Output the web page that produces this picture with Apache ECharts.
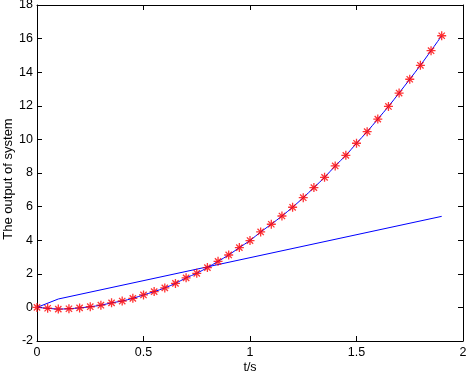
<!DOCTYPE html>
<html>
<head>
<meta charset="utf-8">
<script src="https://cdn.jsdelivr.net/npm/echarts@6/dist/echarts.min.js"></script>
<style>
  html, body { margin: 0; padding: 0; background: #fff; }
  #chart { width: 468px; height: 374px; }
</style>
</head>
<body>
<div id="chart"></div>
<script>
// system output sampled every 0.05 s
const t = [0, 0.05, 0.1, 0.15, 0.2, 0.25, 0.3, 0.35, 0.4, 0.45, 0.5, 0.55, 0.6, 0.65,
  0.7, 0.75, 0.8, 0.85, 0.9, 0.95, 1.0, 1.05, 1.1, 1.15, 1.2, 1.25, 1.3, 1.35, 1.4,
  1.45, 1.5, 1.55, 1.6, 1.65, 1.7, 1.75, 1.8, 1.85, 1.9];
const output = [0, -0.05, -0.1, -0.08, -0.03, 0.04, 0.13, 0.27, 0.38, 0.54, 0.74, 0.94,
  1.16, 1.43, 1.76, 2.03, 2.37, 2.74, 3.12, 3.56, 3.98, 4.49, 4.95, 5.44, 5.96, 6.53,
  7.13, 7.74, 8.42, 9.05, 9.77, 10.46, 11.21, 11.96, 12.76, 13.58, 14.41, 15.28, 16.17];

// the straight reference line
const refT = [0, 0.1, 1.9];
const refY = [0, 0.5, 5.42];

const xTicks = [0, 0.5, 1, 1.5, 2];
const yTicks = [-2, 0, 2, 4, 6, 8, 10, 12, 14, 16, 18];

const font = "Liberation Sans";
const asterisk = "path://M0,5L10,5M5,0L5,10M1.5,1.5L8.5,8.5M8.5,1.5L1.5,8.5";

function pairs(xs, ys) {
  return xs.map((x, i) => [x, ys[i]]);
}

const axisLine = { show: true, onZero: false, lineStyle: { color: "#000", width: 1 } };
const tick = { show: true, inside: true, length: 5, lineStyle: { color: "#000" } };
const label = { color: "#000", fontFamily: font, fontSize: 12.5 };

let option = {
  backgroundColor: "#fff",
  animation: false,
  grid: { left: 37, right: 5, top: 5, bottom: 33, outerBoundsMode: "none" },
  xAxis: [
    {
      type: "value",
      min: xTicks[0],
      max: xTicks[xTicks.length - 1],
      interval: 0.5,
      name: "t/s",
      nameLocation: "middle",
      nameGap: 20,
      nameMoveOverlap: false,
      nameTextStyle: { color: "#000", fontFamily: font, fontSize: 12.5 },
      axisLine: axisLine,
      axisTick: tick,
      axisLabel: Object.assign({ margin: 5 }, label),
      splitLine: { show: false }
    },
    {
      type: "value",
      position: "top",
      min: xTicks[0],
      max: xTicks[xTicks.length - 1],
      interval: 0.5,
      axisLine: axisLine,
      axisTick: tick,
      axisLabel: { show: false },
      splitLine: { show: false }
    }
  ],
  yAxis: [
    {
      type: "value",
      min: yTicks[0],
      max: yTicks[yTicks.length - 1],
      interval: 2,
      name: "The output of system",
      nameLocation: "middle",
      nameGap: 22,
      nameMoveOverlap: false,
      nameTextStyle: { color: "#000", fontFamily: font, fontSize: 13, padding: [0, 12, 0, 0] },
      axisLine: axisLine,
      axisTick: tick,
      axisLabel: Object.assign({ margin: 4 }, label),
      splitLine: { show: false }
    },
    {
      type: "value",
      position: "right",
      min: yTicks[0],
      max: yTicks[yTicks.length - 1],
      interval: 2,
      axisLine: axisLine,
      axisTick: tick,
      axisLabel: { show: false },
      splitLine: { show: false }
    }
  ],
  series: [
    {
      type: "line",
      data: pairs(refT, refY),
      showSymbol: false,
      lineStyle: { color: "#0000ff", width: 1 }
    },
    {
      type: "line",
      data: pairs(t, output),
      smooth: 0.3,
      showSymbol: false,
      lineStyle: { color: "#0000ff", width: 1 }
    },
    {
      type: "scatter",
      data: pairs(t, output),
      symbol: asterisk,
      symbolSize: 9,
      itemStyle: { color: "rgba(0,0,0,0)", borderColor: "#ff0000", borderWidth: 1.3 },
      z: 3
    }
  ]
};

let myChart = echarts.init(document.getElementById("chart"));
myChart.setOption(option);
</script>
</body>
</html>
